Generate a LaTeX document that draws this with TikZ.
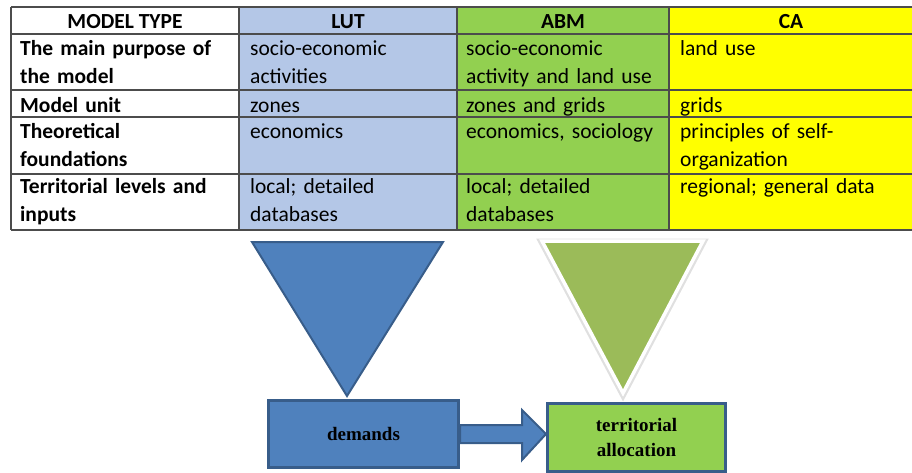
\documentclass[tikz,border=0pt]{standalone}
\usepackage{fontspec}
\setmainfont{Carlito}
\newfontfamily\boxfont{Liberation Serif}
\usetikzlibrary{calc}
\definecolor{lutblue}{HTML}{B4C7E7}
\definecolor{abmgreen}{HTML}{92D050}
\definecolor{cayellow}{HTML}{FFFF00}
\definecolor{darkblue}{HTML}{4F81BD}
\definecolor{edgeblue}{HTML}{385D8A}
\definecolor{olive}{HTML}{9BBB59}

\begin{document}
\begin{tikzpicture}[x=1pt,y=-1pt,
	cell/.style={anchor=north west,inner sep=0pt,align=left,text width=225pt,
		font=\fontsize{21.5}{28}\selectfont,execute at begin node=\strut},
	rowhead/.style={cell,font=\fontsize{21.5}{28}\selectfont\bfseries},
	head/.style={anchor=north,inner sep=0pt,
		font=\fontsize{21.5}{28}\selectfont\bfseries,execute at begin node=\strut},
	rule/.style={draw=black!70,line width=1.3pt},
	flowbox/.style={draw=edgeblue,line width=3pt,inner sep=0pt,
		font=\boxfont\bfseries\fontsize{19}{25}\selectfont,align=center}]
	\useasboundingbox (0,0) rectangle (912,473);
	% column backgrounds
	\fill[lutblue] (239,7) rectangle (457,230);
	\fill[abmgreen] (457,7) rectangle (669,230);
	\fill[cayellow] (669,7) rectangle (912,230);
	% table rules
	\foreach \y in {7,34,90,117,174,230}
		\draw[rule] (11,\y) -- (912,\y);
	\foreach \x in {11,239,457,669}
		\draw[rule] (\x,7) -- (\x,230);
	% header
	\node[head] (h0) at (125,8.4) {MODEL TYPE};
	\node[head] (h1) at (348,8.4) {LUT};
	\node[head] (h2) at (563,8.4) {ABM};
	\node[head] (h3) at (791,8.4) {CA};
	% first column
	\node[rowhead] (r1) at (20,35.4) {The main purpose of\\the model};
	\node[rowhead] (r2) at (20,92.4) {Model unit};
	\node[rowhead] (r3) at (20,118.4) {Theoretical\\foundations};
	\node[rowhead] (r4) at (20,173.4) {Territorial levels and\\inputs};
	% LUT
	\node[cell] (lut1) at (250,35.4) {socio-economic\\activities};
	\node[cell] (lut2) at (250,92.4) {zones};
	\node[cell] (lut3) at (250,118.4) {economics};
	\node[cell] (lut4) at (250,173.4) {local; detailed\\databases};
	% ABM
	\node[cell] (abm1) at (466,35.4) {socio-economic\\activity and land use};
	\node[cell] (abm2) at (466,92.4) {zones and grids};
	\node[cell] (abm3) at (466,118.4) {economics, sociology};
	\node[cell] (abm4) at (466,173.4) {local; detailed\\databases};
	% CA
	\node[cell] (ca1) at (680,35.4) {land use};
	\node[cell] (ca2) at (680,92.4) {grids};
	\node[cell] (ca3) at (680,118.4) {principles of self-\\organization};
	\node[cell] (ca4) at (680,173.4) {regional; general data};

	% funnels
	\filldraw[fill=darkblue,draw=edgeblue,line width=2pt,line join=miter]
		(252,242) -- (443,242) -- (347,396) -- cycle;
	\draw[black!12,line width=7pt,line join=miter]
		(542,242) -- (703,242) -- (623,394) -- cycle;
	\filldraw[fill=olive,draw=white,line width=3.5pt,line join=miter]
		(542,241) -- (703,241) -- (623,393) -- cycle;

	% boxes
	\node[flowbox,fill=darkblue,minimum width=190pt,minimum height=67pt] (dem) at (363.5,434) {demands};
	\node[flowbox,fill=abmgreen,minimum width=178pt,minimum height=68pt] (alloc) at (636.5,437) {territorial\\allocation};
	\filldraw[fill=darkblue,draw=edgeblue,line width=2pt,line join=miter]
		($(dem.east)+(0,-9)$) -- ($(alloc.west)+(-24,-12)$) -- ($(alloc.west)+(-24,-27)$)
		-- ($(alloc.west)+(0,-3)$) -- ($(alloc.west)+(-24,23)$) -- ($(alloc.west)+(-24,6)$)
		-- ($(dem.east)+(0,9)$) -- cycle;
\end{tikzpicture}
\end{document}
